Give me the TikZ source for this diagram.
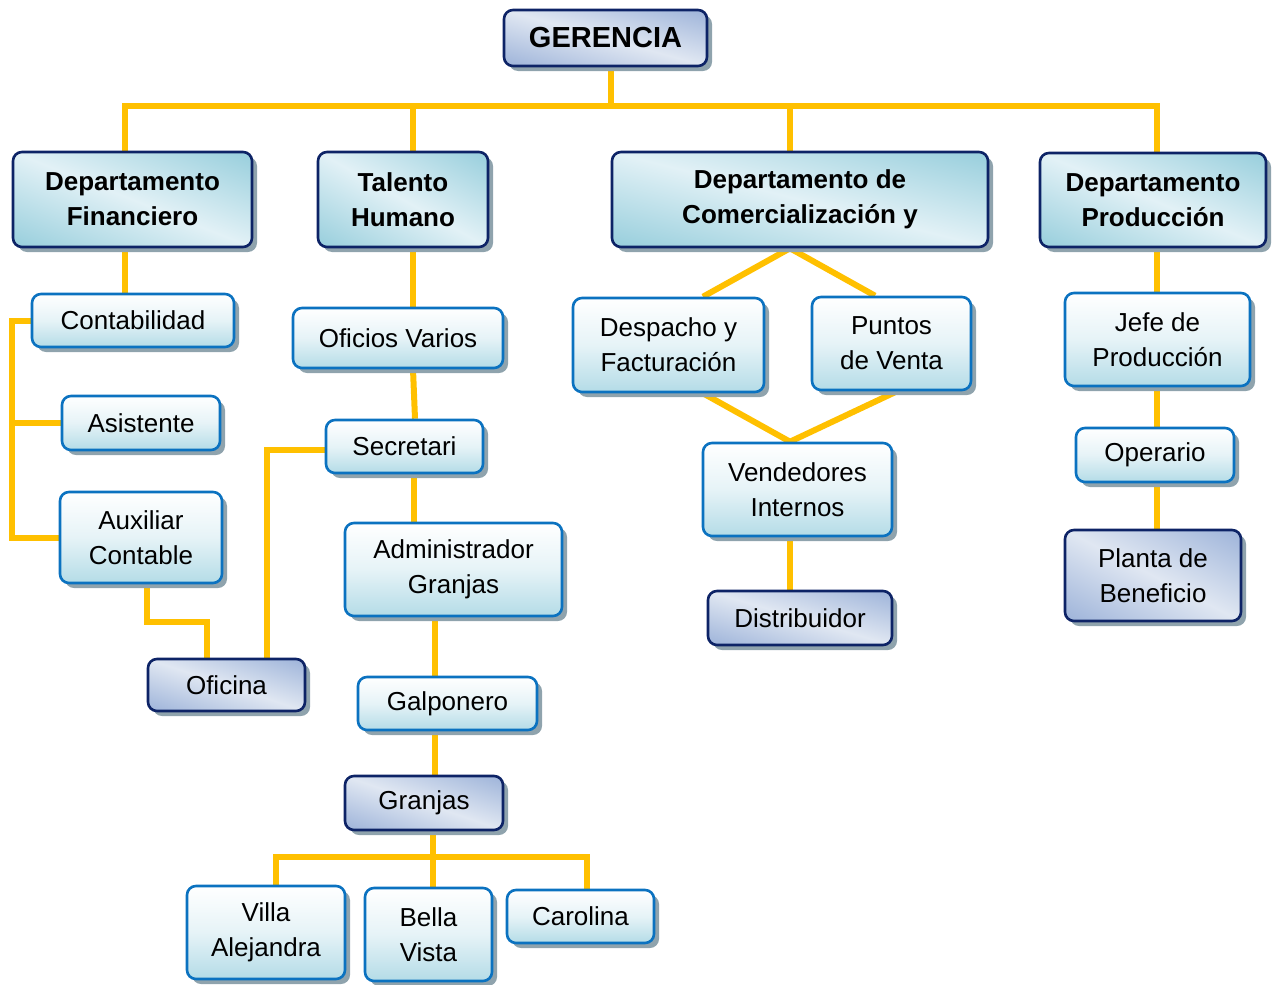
\documentclass[tikz,border=0pt]{standalone}
\usepackage{fontspec}
\setmainfont{Liberation Sans}
\usetikzlibrary{shadows}
\definecolor{conncol}{HTML}{FFC000}
\definecolor{navyb}{HTML}{0D2366}
\definecolor{blueb}{HTML}{0B72C0}
\definecolor{lightMid}{HTML}{E6F3F7}
\definecolor{lightBot}{HTML}{B4DCE7}
\definecolor{shadowc}{HTML}{8FA3AD}
% diagonal shadings: darker at top-right and bottom-left corners, light band along the other diagonal
\pgfdeclarefunctionalshading{deptshade}{\pgfpointorigin}{\pgfpoint{100bp}{100bp}}{}{
  25 sub 50 div exch 25 sub 50 div add 1 sub abs
  dup -0.294 mul 0.886 add exch
  dup -0.137 mul 0.945 add exch
  -0.102 mul 0.965 add
}
\pgfdeclarefunctionalshading{lavshade}{\pgfpointorigin}{\pgfpoint{100bp}{100bp}}{}{
  25 sub 50 div exch 25 sub 50 div add 1 sub abs
  dup -0.262 mul 0.878 add exch
  dup -0.204 mul 0.906 add exch
  -0.098 mul 0.949 add
}
\pgfdeclareverticalshading{lightshade}{100bp}{color(0bp)=(lightBot); color(25bp)=(lightBot); color(50bp)=(lightMid); color(75bp)=(white); color(100bp)=(white)}
\pgfdeclarelayer{bg}
\pgfsetlayers{bg,main}
\tikzset{
  conn/.style={draw=conncol, line width=6pt},
  base/.style={rounded corners=9pt, line width=2.6pt, align=center, inner sep=0pt,
    font=\fontsize{26}{35}\selectfont,
    drop shadow={shadow xshift=5pt, shadow yshift=-5pt, fill=shadowc, opacity=1}},
  dept/.style={base, draw=navyb, shading=deptshade,
    font=\bfseries\fontsize{26}{35}\selectfont},
  lbox/.style={base, draw=blueb, shading=lightshade},
  dbox/.style={base, draw=navyb, shading=lavshade},
}
\begin{document}
\begin{tikzpicture}[x=1pt,y=-1pt]
\useasboundingbox (0,0) rectangle (1277,985);
% nodes
\node[dbox, minimum width=203pt, minimum height=56pt, font=\bfseries\fontsize{29}{35}\selectfont] (ger) at (605.5,38) {GERENCIA};
\node[dept, minimum width=239pt, minimum height=95pt] (fin) at (132.5,199.5) {Departamento\\Financiero};
\node[dept, minimum width=170pt, minimum height=95pt] (tal) at (403,199.5) {Talento\\Humano};
\node[dept, minimum width=376pt, minimum height=95pt] (com) at (800,199.5) {Departamento de\\Comercialización y};
\node[dept, minimum width=226pt, minimum height=94pt] (pro) at (1153,200) {Departamento\\Producción};
\node[lbox, minimum width=202pt, minimum height=53pt] (cont) at (133,320.5) {Contabilidad};
\node[lbox, minimum width=158pt, minimum height=54pt] (asis) at (141,423) {Asistente};
\node[lbox, minimum width=162pt, minimum height=91pt] (aux) at (141,537.5) {Auxiliar\\Contable};
\node[dbox, minimum width=157pt, minimum height=52pt] (ofi) at (226.5,685) {Oficina};
\node[lbox, minimum width=210pt, minimum height=60pt] (ofv) at (398,338) {Oficios Varios};
\node[lbox, minimum width=157pt, minimum height=53pt] (sec) at (404.5,446.5) {Secretari};
\node[lbox, minimum width=217pt, minimum height=93pt] (adm) at (453.5,569.5) {Administrador\\Granjas};
\node[lbox, minimum width=179pt, minimum height=53pt] (gal) at (447.5,703.5) {Galponero};
\node[dbox, minimum width=158pt, minimum height=54pt] (gra) at (424,803) {Granjas};
\node[lbox, minimum width=158pt, minimum height=93pt] (vil) at (266,932.5) {Villa\\Alejandra};
\node[lbox, minimum width=127pt, minimum height=93pt] (bel) at (428.5,934.5) {Bella\\Vista};
\node[lbox, minimum width=147pt, minimum height=53pt] (car) at (580.5,916.5) {Carolina};
\node[lbox, minimum width=191pt, minimum height=94pt] (des) at (668.5,345) {Despacho y\\Facturación};
\node[lbox, minimum width=159pt, minimum height=93pt] (pun) at (891.5,343.5) {Puntos\\de Venta};
\node[lbox, minimum width=189pt, minimum height=93pt] (ven) at (797.5,489.5) {Vendedores\\Internos};
\node[dbox, minimum width=184pt, minimum height=54pt] (dis) at (800,618) {Distribuidor};
\node[lbox, minimum width=185pt, minimum height=93pt] (jef) at (1157.5,339.5) {Jefe de\\Producción};
\node[lbox, minimum width=158pt, minimum height=54pt] (ope) at (1155,455) {Operario};
\node[dbox, minimum width=176pt, minimum height=91pt] (pla) at (1153,575.5) {Planta de\\Beneficio};
% connectors
\begin{pgfonlayer}{bg}
\coordinate (busL) at (125,106);
\coordinate (busR) at (1157,106);
\draw[conn] (611,0 |- ger.south) -- (611,106);
\draw[conn] (125,0 |- fin.north) -- (busL) -- (busR) -- (1157,0 |- pro.north);
\draw[conn] (413,0 |- tal.north) -- (413,106);
\draw[conn] (790,0 |- com.north) -- (790,106);
\draw[conn] (125,0 |- fin.south) -- (125,0 |- cont.north);
\draw[conn] (cont.west) -- (12,0 |- cont.west) -- (12,0 |- aux.west) -- (aux.west);
\draw[conn] (12,0 |- asis.west) -- (asis.west);
\coordinate (k1) at (147,622);
\coordinate (k2) at (207,622);
\draw[conn] (147,0 |- aux.south) -- (k1) -- (k2) -- (207,0 |- ofi.north);
\coordinate (k3) at (267,450);
\draw[conn] (267,0 |- ofi.north) -- (k3) -- (sec.west |- k3);
\draw[conn] (413,0 |- tal.south) -- (413,0 |- ofv.north);
\draw[conn] (413,0 |- ofv.south) -- (415,0 |- sec.north);
\draw[conn] (414,0 |- sec.south) -- (414,0 |- adm.north);
\draw[conn] (435,0 |- adm.south) -- (435,0 |- gal.north);
\draw[conn] (435,0 |- gal.south) -- (435,0 |- gra.north);
\draw[conn] (433,0 |- gra.south) -- (433,0 |- bel.north);
\coordinate (k4) at (276,857);
\coordinate (k5) at (587,857);
\draw[conn] (276,0 |- vil.north) -- (k4) -- (k5) -- (587,0 |- car.north);
\draw[conn] (790,0 |- com.south) -- (703,0 |- des.north);
\draw[conn] (790,0 |- com.south) -- (875,0 |- pun.north);
\draw[conn] (703,0 |- des.south) -- (790,0 |- ven.north);
\draw[conn] (897,0 |- pun.south) -- (790,0 |- ven.north);
\draw[conn] (790,0 |- ven.south) -- (790,0 |- dis.north);
\draw[conn] (1157,0 |- pro.south) -- (1157,0 |- jef.north);
\draw[conn] (1157,0 |- jef.south) -- (1157,0 |- ope.north);
\draw[conn] (1157,0 |- ope.south) -- (1157,0 |- pla.north);
\end{pgfonlayer}
\end{tikzpicture}
\end{document}
